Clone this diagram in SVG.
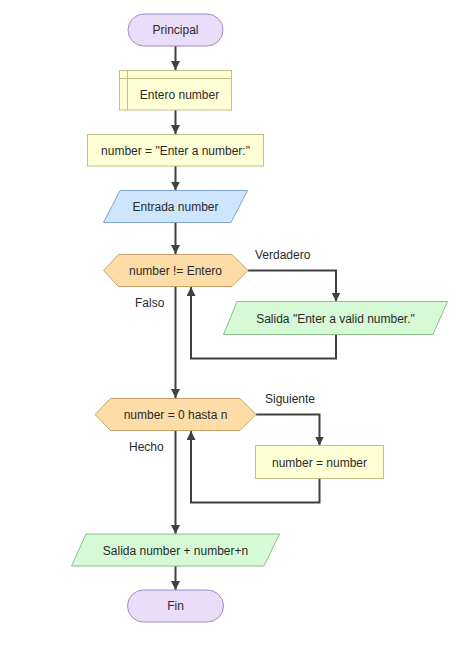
<svg xmlns="http://www.w3.org/2000/svg" width="474" height="645" viewBox="0 0 474 645">
<style>
text{font-family:"Liberation Sans",Arial,sans-serif;font-size:12px;fill:#2a2a2a;text-anchor:middle;dominant-baseline:central}
.lbl{text-anchor:start}
.term{fill:#E9DDF9;stroke:#9F8BC2;stroke-width:1}
.proc{fill:#FFFFD6;stroke:#C2C08A;stroke-width:1}
.in{fill:#CDE5FD;stroke:#7EA6CC;stroke-width:1}
.out{fill:#D6F9D6;stroke:#8CC08C;stroke-width:1}
.dec{fill:#FDDCA8;stroke:#C9A168;stroke-width:1}
.ln{fill:none;stroke:#404040;stroke-width:2}
</style>
<defs>
<marker id="ah" viewBox="0 0 10 10" refX="10" refY="5" markerWidth="9" markerHeight="9" orient="auto" markerUnits="userSpaceOnUse">
<path d="M0,0 L10,5 L0,10 z" fill="#404040"/>
</marker>
</defs>
<rect width="474" height="645" fill="#ffffff"/>
<g id="connectors">
<path class="ln" d="M175.5,46 V70" marker-end="url(#ah)"/>
<path class="ln" d="M175.5,110 V134" marker-end="url(#ah)"/>
<path class="ln" d="M175.5,166 V190.5" marker-end="url(#ah)"/>
<path class="ln" d="M175.5,222.5 V254" marker-end="url(#ah)"/>
<path class="ln" d="M248,270.5 H336 V301.5" marker-end="url(#ah)"/>
<path class="ln" d="M336,334.5 V358.5 H191 V287" marker-end="url(#ah)"/>
<path class="ln" d="M175.5,287 V398" marker-end="url(#ah)"/>
<path class="ln" d="M256,414.5 H319.5 V445.5" marker-end="url(#ah)"/>
<path class="ln" d="M319.5,478.5 V502.5 H191 V431" marker-end="url(#ah)"/>
<path class="ln" d="M175.5,431 V534" marker-end="url(#ah)"/>
<path class="ln" d="M175.5,566 V590" marker-end="url(#ah)"/>
</g>
<g id="n-principal">
<rect class="term" x="128" y="14" width="95" height="32" rx="16"/>
<text x="175.5" y="30">Principal</text>
</g>
<g id="n-entero">
<rect class="proc" x="119.5" y="70.5" width="112" height="39.5"/>
<path d="M127.5,70.5 V110 M119.5,78.5 H231.5" fill="none" stroke="#C2C08A" stroke-width="1"/>
<text x="179.5" y="95">Entero number</text>
</g>
<g id="n-assign1">
<rect class="proc" x="87.5" y="134.5" width="176" height="31.5"/>
<text x="175.5" y="150.5">number = "Enter a number:"</text>
</g>
<g id="n-entrada">
<polygon class="in" points="120,190.5 247.5,190.5 231,222.5 103.5,222.5"/>
<text x="175.5" y="206.5">Entrada number</text>
</g>
<g id="n-while">
<polygon class="dec" points="103.5,270.5 118.5,254.5 232,254.5 248,270.5 232,286.5 118.5,286.5"/>
<text x="175.5" y="270.5">number != Entero</text>
</g>
<g id="n-salida1">
<polygon class="out" points="237,301.5 447.5,301.5 433,334.5 223.5,334.5"/>
<text x="335.5" y="318.5">Salida "Enter a valid number."</text>
</g>
<g id="n-for">
<polygon class="dec" points="95,414.5 110.5,398.5 240,398.5 256,414.5 240,430.5 110.5,430.5"/>
<text x="175.5" y="414.5">number = 0 hasta n</text>
</g>
<g id="n-assign2">
<rect class="proc" x="255.5" y="445.5" width="128" height="33"/>
<text x="319.5" y="462.5">number = number</text>
</g>
<g id="n-salida2">
<polygon class="out" points="86,534 279.5,534 264,566 71.5,566"/>
<text x="175.5" y="550.5">Salida number + number+n</text>
</g>
<g id="n-fin">
<rect class="term" x="127.5" y="590" width="96" height="32" rx="16"/>
<text x="175.5" y="606">Fin</text>
</g>
<g id="labels">
<text class="lbl" x="255" y="255">Verdadero</text>
<text class="lbl" x="135" y="302.5">Falso</text>
<text class="lbl" x="265" y="398.5">Siguiente</text>
<text class="lbl" x="129" y="446.5">Hecho</text>
</g>
</svg>
